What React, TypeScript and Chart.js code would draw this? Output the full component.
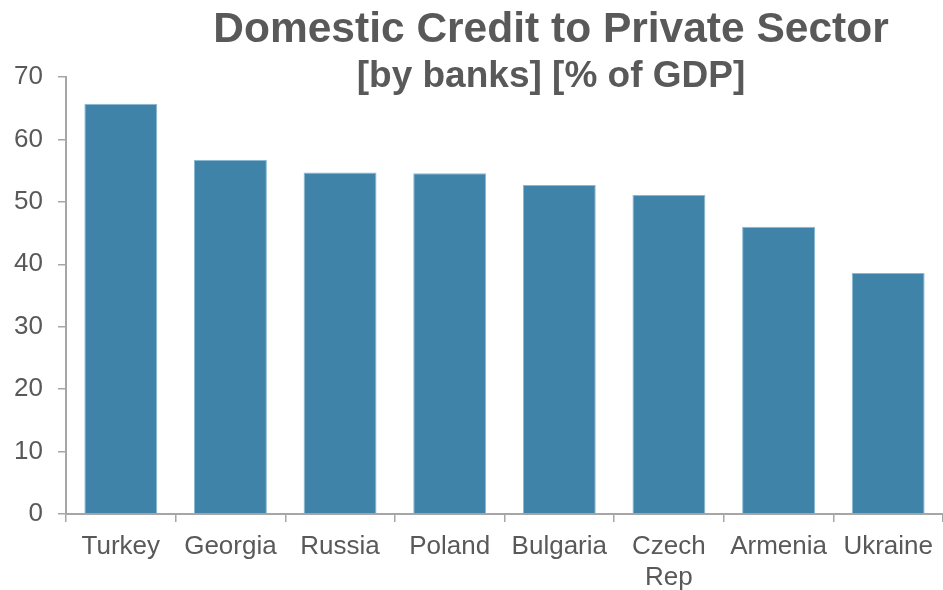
import React, { useEffect, useRef } from "react";
import { Chart, registerables } from "chart.js";

Chart.register(...registerables);

const categories: (string | string[])[] = ["Turkey", "Georgia", "Russia", "Poland", "Bulgaria", ["Czech", "Rep"], "Armenia", "Ukraine"];
const creditValues: number[] = [65.7, 56.7, 54.7, 54.6, 52.7, 51.1, 46.0, 38.6];
const titleLines: string[] = ["Domestic Credit to Private Sector", "[by banks] [% of GDP]"];

const GRAY = "#595959";
const AXIS = "#a6a6a6";

const titlePlugin = {
  id: "customTitle",
  afterDraw(chart: any) {
    const ctx = chart.ctx;
    ctx.save();
    ctx.fillStyle = GRAY;
    ctx.textAlign = "center";
    ctx.textBaseline = "alphabetic";
    ctx.font = "bold 42.5px 'Liberation Sans', Arial, sans-serif";
    ctx.fillText(titleLines[0], 551, 42);
    ctx.font = "bold 37px 'Liberation Sans', Arial, sans-serif";
    ctx.fillText(titleLines[1], 551, 87);
    ctx.restore();
  },
};

export default function App() {
  const ref = useRef<HTMLCanvasElement | null>(null);
  useEffect(() => {
    document.body.style.margin = "0";
    if (!ref.current) return;
    const chart = new Chart(ref.current, {
      type: "bar",
      data: {
        labels: categories,
        datasets: [
          {
            data: creditValues,
            backgroundColor: "#4083a8",
            borderColor: "#8ab8d2",
            borderWidth: 1,
            categoryPercentage: 1,
            barPercentage: 0.665,
          },
        ],
      },
      options: {
        animation: false,
        responsive: true,
        maintainAspectRatio: false,
        layout: { padding: { top: 77, right: 0, left: 0, bottom: 0 } },
        plugins: { legend: { display: false }, title: { display: false }, tooltip: { enabled: false } },
        scales: {
          x: {
            grid: { display: true, drawOnChartArea: false, drawTicks: true, tickLength: 8, color: AXIS, lineWidth: 1.5, offset: true },
            border: { display: true, color: AXIS, width: 2 },
            ticks: {
              color: GRAY,
              font: { family: "'Liberation Sans', Arial, sans-serif", size: 26, lineHeight: 1.17 },
              padding: 10,
              maxRotation: 0,
              autoSkip: false,
            },
            afterFit: (s: any) => { s.height = 76; },
          },
          y: {
            min: 0,
            max: 70,
            ticks: {
              stepSize: 10,
              color: GRAY,
              font: { family: "'Liberation Sans', Arial, sans-serif", size: 26 },
              padding: 15,
            },
            grid: { display: true, drawOnChartArea: false, drawTicks: true, tickLength: 8, color: AXIS, lineWidth: 1.5 },
            border: { display: true, color: AXIS, width: 2 },
            afterFit: (s: any) => { s.width = 66; },
          },
        },
      },
      plugins: [titlePlugin],
    });
    return () => chart.destroy();
  }, []);
  return (
    <div style={{ width: 943, height: 590, position: "relative" }}>
      <canvas ref={ref} />
    </div>
  );
}
